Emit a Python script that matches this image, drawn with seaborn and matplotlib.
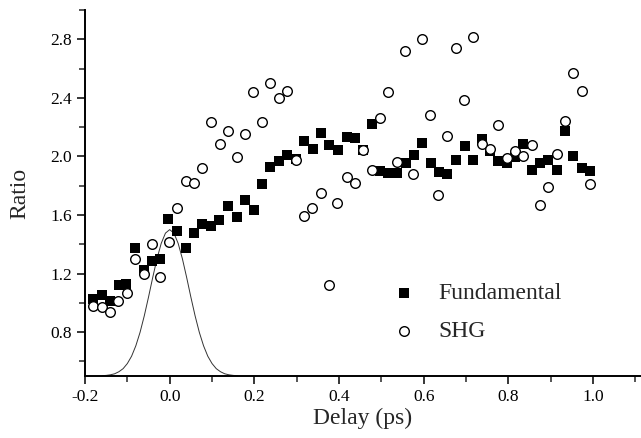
import numpy as np
import pandas as pd
import matplotlib
matplotlib.use("Agg")
import matplotlib.pyplot as plt
from matplotlib.ticker import MultipleLocator
import seaborn as sns

# Fundamental (filled squares)
fund_delay = [-0.181, -0.161, -0.140, -0.120, -0.102, -0.081, -0.061, -0.041, -0.022, -0.003,
              0.017, 0.038, 0.057, 0.077, 0.097, 0.117, 0.138, 0.158, 0.177, 0.198,
              0.218, 0.238, 0.258, 0.277, 0.298, 0.318, 0.338, 0.358, 0.377, 0.398,
              0.418, 0.438, 0.457, 0.477, 0.496, 0.516, 0.537, 0.557, 0.577, 0.596,
              0.616, 0.635, 0.656, 0.676, 0.697, 0.717, 0.737, 0.757, 0.776, 0.796,
              0.816, 0.835, 0.855, 0.874, 0.894, 0.914, 0.934, 0.953, 0.973, 0.993]
fund_ratio = [1.025, 1.052, 1.009, 1.120, 1.127, 1.372, 1.225, 1.284, 1.302, 1.570,
              1.488, 1.377, 1.475, 1.536, 1.522, 1.565, 1.661, 1.588, 1.700, 1.634,
              1.809, 1.929, 1.972, 2.009, 1.985, 2.104, 2.052, 2.161, 2.077, 2.047,
              2.134, 2.124, 2.047, 2.225, 1.900, 1.884, 1.888, 1.952, 2.013, 2.093,
              1.952, 1.891, 1.877, 1.979, 2.070, 1.979, 2.122, 2.040, 1.968, 1.952,
              1.998, 2.088, 1.906, 1.957, 1.975, 1.906, 2.177, 2.002, 1.922, 1.900]

# SHG (open circles)
shg_delay = [-0.181, -0.161, -0.142, -0.121, -0.101, -0.081, -0.061, -0.042, -0.022, -0.002,
             0.017, 0.038, 0.057, 0.077, 0.097, 0.118, 0.138, 0.158, 0.177, 0.197,
             0.217, 0.238, 0.258, 0.277, 0.298, 0.318, 0.337, 0.357, 0.377, 0.396,
             0.418, 0.437, 0.457, 0.477, 0.496, 0.516, 0.536, 0.556, 0.575, 0.595,
             0.614, 0.634, 0.654, 0.675, 0.696, 0.717, 0.737, 0.757, 0.776, 0.796,
             0.816, 0.835, 0.855, 0.875, 0.894, 0.914, 0.934, 0.953, 0.973, 0.993]
shg_ratio = [0.975, 0.968, 0.938, 1.013, 1.064, 1.297, 1.200, 1.400, 1.177, 1.415,
             1.645, 1.831, 1.816, 1.923, 2.233, 2.086, 2.172, 1.995, 2.150, 2.441,
             2.233, 2.502, 2.400, 2.445, 1.979, 1.590, 1.645, 1.747, 1.125, 1.679,
             1.860, 1.820, 2.047, 1.904, 2.263, 2.441, 1.963, 2.717, 1.877, 2.800,
             2.286, 1.735, 2.138, 2.742, 2.383, 2.815, 2.086, 2.054, 2.218, 1.986,
             2.036, 2.002, 2.075, 1.668, 1.793, 2.020, 2.240, 2.570, 2.450, 1.809]

# pulse profile
pulse_delay = [-0.16, -0.15, -0.14, -0.13, -0.12, -0.11, -0.10, -0.09, -0.08, -0.07, -0.06,
               -0.05, -0.04, -0.03, -0.02, -0.01, 0.00, 0.01, 0.02, 0.03, 0.04, 0.05,
               0.06, 0.07, 0.08, 0.09, 0.10, 0.11, 0.12, 0.13, 0.14, 0.15, 0.16]
pulse_ratio = [0.502, 0.504, 0.508, 0.515, 0.529, 0.550, 0.585, 0.635, 0.706, 0.798, 0.911,
               1.039, 1.174, 1.301, 1.406, 1.476, 1.500, 1.476, 1.406, 1.301, 1.174, 1.039,
               0.911, 0.798, 0.706, 0.635, 0.585, 0.550, 0.529, 0.515, 0.508, 0.504, 0.502]

sns.set_style("ticks")
plt.rcParams['font.family'] = ['Liberation Serif', 'DejaVu Serif']

fig = plt.figure(figsize=(6.41, 4.38), dpi=100)
ax = fig.add_axes([0.1326, 0.1416, 0.8674, 0.8354])

sns.lineplot(x=pulse_delay, y=pulse_ratio, color="#333333", linewidth=0.7,
             sort=False, estimator=None, ax=ax, zorder=1)
sns.scatterplot(x=fund_delay, y=fund_ratio, marker="s", color="black", s=42,
                linewidth=0, label="Fundamental", ax=ax, zorder=2)
sns.scatterplot(x=shg_delay, y=shg_ratio, marker="o", color="white", s=48,
                edgecolor="black", linewidth=1.0, label="SHG", ax=ax, zorder=3)

ax.set_xlim(-0.2, 1.113)
ax.set_ylim(0.5, 3.0)
ax.xaxis.set_minor_locator(MultipleLocator(0.1))
ax.yaxis.set_minor_locator(MultipleLocator(0.2))
ax.set_yticks([0.8, 1.2, 1.6, 2.0, 2.4, 2.8])
ax.set_xticks([-0.2, 0.0, 0.2, 0.4, 0.6, 0.8, 1.0])
ax.set_xticklabels(["-0.2", "0.0", "0.2", "0.4", "0.6", "0.8", "1.0"])
ax.tick_params(axis="both", which="major", direction="out", length=6, width=1.1,
               labelsize=12.5, colors="black")
ax.tick_params(axis="both", which="minor", direction="out", length=4, width=1.1)
sns.despine(ax=ax)
for sp in ("left", "bottom"):
    ax.spines[sp].set_linewidth(1.4)
    ax.spines[sp].set_color("black")

ax.set_xlabel("Delay (ps)", fontsize=17, labelpad=2)
ax.set_ylabel("Ratio", fontsize=17, labelpad=14)

ax.legend(frameon=False, loc="center left", bbox_to_anchor=(0.515, 0.173),
          fontsize=17, handlelength=1.0, handletextpad=0.95, labelspacing=0.7,
          borderpad=0.4)

fig.savefig("out.png", dpi=100)
